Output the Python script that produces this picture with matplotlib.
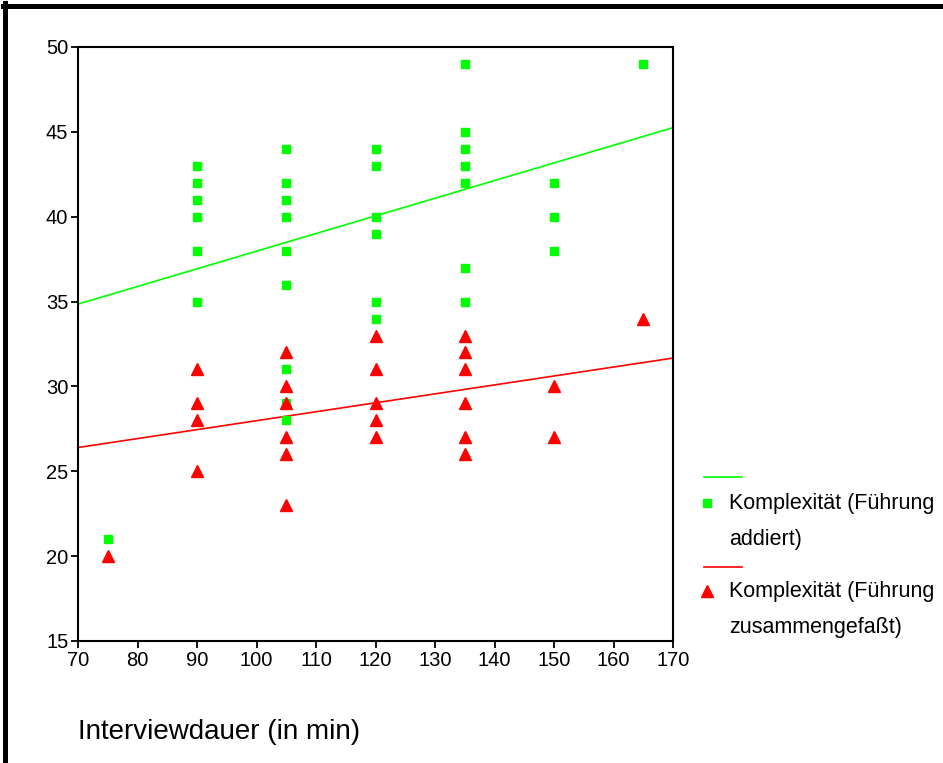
import matplotlib
matplotlib.use("Agg")
import matplotlib.pyplot as plt
from matplotlib.lines import Line2D

plt.rcParams["font.family"] = ["Liberation Sans", "DejaVu Sans"]

# Data
add_x = [75, 90, 90, 90, 90, 90, 90,
         105, 105, 105, 105, 105, 105, 105, 105, 105,
         120, 120, 120, 120, 120, 120,
         135, 135, 135, 135, 135, 135, 135,
         150, 150, 150, 165]
add_y = [21, 43, 42, 41, 40, 38, 35,
         44, 42, 41, 40, 38, 36, 31, 29, 28,
         44, 43, 40, 39, 35, 34,
         49, 45, 44, 43, 42, 37, 35,
         42, 40, 38, 49]

zus_x = [75, 90, 90, 90, 90,
         105, 105, 105, 105, 105, 105,
         120, 120, 120, 120, 120,
         135, 135, 135, 135, 135, 135,
         150, 150, 165]
zus_y = [20, 31, 29, 28, 25,
         32, 30, 29, 27, 26, 23,
         33, 31, 29, 28, 27,
         33, 32, 31, 29, 27, 26,
         30, 27, 34]

# fitted lines (endpoints)
fit_x = [70, 170]
add_fit = [34.85, 45.25]
zus_fit = [26.4, 31.67]

GREEN = "#00ff00"
RED = "#ff0000"

W, H = 943, 763
fig = plt.figure(figsize=(W / 100, H / 100), dpi=100)
ax = fig.add_axes([78 / W, 1 - 641 / H, (673 - 78) / W, (641 - 47) / H])

ax.plot(fit_x, add_fit, color=GREEN, lw=1.2)
ax.plot(fit_x, zus_fit, color=RED, lw=1.2)
ax.plot(add_x, add_y, ls="none", marker="s", ms=6, color=GREEN, mec=GREEN)
ax.plot(zus_x, zus_y, ls="none", marker="^", ms=8.5, color=RED, mec=RED)

ax.set_xlim(70, 170)
ax.set_ylim(15, 50)
ax.set_xticks(range(70, 171, 10))
ax.set_yticks(range(15, 51, 5))
ax.tick_params(direction="out", length=5, width=1.3, labelsize=14.5, pad=2)
for s in ax.spines.values():
    s.set_linewidth(1.5)

fig.text(78 / W, 1 - 732 / H, "Interviewdauer (in min)", fontsize=20,
         va="center", ha="left")

# Legend drawn by hand
def fx(px):
    return px / W

def fy(py):
    return 1 - py / H

fig.add_artist(Line2D([fx(704), fx(742)], [fy(477), fy(477)], color=GREEN, lw=1.2))
fig.add_artist(Line2D([fx(707)], [fy(503)], marker="s", ms=6, color=GREEN, ls="none"))
fig.text(fx(729), fy(503), "Komplexität (Führung", fontsize=15.5, va="center")
fig.text(fx(729), fy(539), "addiert)", fontsize=15.5, va="center")
fig.add_artist(Line2D([fx(704), fx(742)], [fy(567), fy(567)], color=RED, lw=1.2))
fig.add_artist(Line2D([fx(707)], [fy(591)], marker="^", ms=8.5, color=RED, ls="none"))
fig.text(fx(729), fy(591), "Komplexität (Führung", fontsize=15.5, va="center")
fig.text(fx(729), fy(627), "zusammengefaßt)", fontsize=15.5, va="center")

# Outer frame (left and top edges)
fig.add_artist(Line2D([fx(5), fx(5)], [0, fy(3)], color="black", lw=3.6))
fig.add_artist(Line2D([fx(3), 1], [fy(5.5), fy(5.5)], color="black", lw=3.6))

fig.savefig("out.png", dpi=100)
